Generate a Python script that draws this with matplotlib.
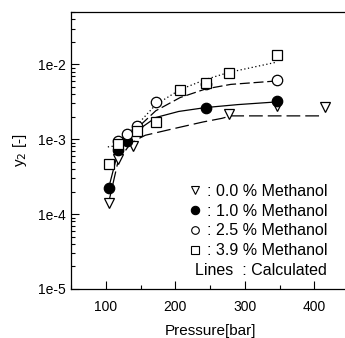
import matplotlib
matplotlib.use("Agg")
import matplotlib.pyplot as plt
from matplotlib.ticker import FixedLocator, LogLocator, NullFormatter, FuncFormatter, MultipleLocator
from matplotlib.lines import Line2D

plt.rcParams['font.family'] = ['Liberation Sans', 'DejaVu Sans']

# Experimental data
p_00 = [104, 118, 139, 277, 346, 415]
y_00 = [1.4e-4, 5.4e-4, 8.0e-4, 2.15e-3, 2.8e-3, 2.7e-3]

p_10 = [104, 118, 130, 244, 346]
y_10 = [2.24e-4, 7.2e-4, 9.6e-4, 2.65e-3, 3.25e-3]

p_25 = [118, 131, 145, 172, 244, 347]
y_25 = [9.6e-4, 1.17e-3, 1.5e-3, 3.1e-3, 5.4e-3, 6.2e-3]

p_39 = [104, 118, 145, 173, 207, 244, 277, 346]
y_39 = [4.7e-4, 8.7e-4, 1.27e-3, 1.7e-3, 4.6e-3, 5.7e-3, 7.7e-3, 1.35e-2]

# Calculated curves
pc_00 = [104, 118, 135, 150, 157, 200, 240, 267, 280, 320, 410]
yc_00 = [1.4e-4, 5.2e-4, 8.6e-4, 1.05e-3, 1.13e-3, 1.4e-3, 1.7e-3, 1.9e-3, 2.05e-3, 2.05e-3, 2.05e-3]

pc_10 = [104, 118, 130, 145, 172, 205, 244, 290, 346]
yc_10 = [2.2e-4, 7.0e-4, 9.8e-4, 1.3e-3, 1.95e-3, 2.35e-3, 2.65e-3, 2.9e-3, 3.15e-3]

pc_25 = [118, 131, 145, 172, 207, 244, 280, 346]
yc_25 = [9.5e-4, 1.15e-3, 1.4e-3, 2.4e-3, 3.6e-3, 4.7e-3, 5.4e-3, 6.0e-3]

pc_39 = [103, 112, 118, 131, 145, 172, 207, 244, 277, 346]
yc_39 = [7.9e-4, 8.1e-4, 9.0e-4, 1.15e-3, 1.55e-3, 2.9e-3, 4.6e-3, 6.3e-3, 7.8e-3, 1.07e-2]

labels = [": 0.0 % Methanol", ": 1.0 % Methanol", ": 2.5 % Methanol", ": 3.9 % Methanol"]
y_ticks = [1e-5, 1e-4, 1e-3, 1e-2]
y_tick_labels = ["1e-5", "1e-4", "1e-3", "1e-2"]
x_ticks = [100, 200, 300, 400]

fig = plt.figure(figsize=(3.45, 3.38), dpi=100)
W, H = 345, 338
left, right, top, bottom = 71, 349, 12, 289
ax = fig.add_axes([left / W, 1 - bottom / H, (right - left) / W, (bottom - top) / H])

lw = 0.9
ax.plot(pc_00, yc_00, color='black', lw=lw, linestyle=(0, (11, 4)), zorder=2)
ax.plot(pc_10, yc_10, color='black', lw=lw, linestyle='-', zorder=2)
ax.plot(pc_25, yc_25, color='black', lw=lw, linestyle=(0, (8, 3)), zorder=2)
ax.plot(pc_39, yc_39, color='black', lw=lw, linestyle=(0, (1, 2)), zorder=2)

ms = 7.5
ax.plot(p_00, y_00, linestyle='none', marker='v', ms=ms, mfc='white', mec='black', mew=0.9, zorder=3)
ax.plot(p_10, y_10, linestyle='none', marker='o', ms=ms, mfc='black', mec='black', mew=0.9, zorder=3)
ax.plot(p_25, y_25, linestyle='none', marker='o', ms=ms, mfc='white', mec='black', mew=0.9, zorder=3)
ax.plot(p_39, y_39, linestyle='none', marker='s', ms=ms, mfc='white', mec='black', mew=0.9, zorder=4)

ax.set_yscale('log')
ax.set_xlim(50, 450)
ax.set_ylim(1e-5, 5e-2)

ax.yaxis.set_major_locator(FixedLocator(y_ticks))
ax.yaxis.set_major_formatter(FuncFormatter(lambda v, pos: y_tick_labels[y_ticks.index(v)] if v in y_ticks else ""))
ax.yaxis.set_minor_locator(LogLocator(base=10, subs=range(2, 10)))
ax.yaxis.set_minor_formatter(NullFormatter())
ax.xaxis.set_major_locator(FixedLocator(x_ticks))
ax.xaxis.set_minor_locator(MultipleLocator(50))

ax.tick_params(which='major', direction='in', length=6, width=0.8, labelsize=10, top=False, right=False)
ax.tick_params(which='minor', direction='in', length=3, width=0.8, top=False, right=False)
ax.tick_params(axis='x', pad=8)
ax.tick_params(axis='y', pad=4)
for s in ax.spines.values():
    s.set_linewidth(0.9)

ax.set_xlabel("Pressure[bar]", fontsize=11, labelpad=7)
ax.set_ylabel("y$_2$ [-]", fontsize=11, labelpad=6)

handles = [
    Line2D([], [], linestyle='none', marker='v', ms=5.5, mfc='white', mec='black', mew=0.8),
    Line2D([], [], linestyle='none', marker='o', ms=6, mfc='black', mec='black', mew=0.8),
    Line2D([], [], linestyle='none', marker='o', ms=5.5, mfc='white', mec='black', mew=0.8),
    Line2D([], [], linestyle='none', marker='s', ms=5.5, mfc='white', mec='black', mew=0.8),
    Line2D([], [], linestyle='none'),
]
leg = ax.legend(handles, labels + ["Lines  : Calculated"], loc='lower left',
                bbox_to_anchor=((189 - left) / (right - left), (289 - 278) / (bottom - top)),
                frameon=False, fontsize=11.5, handlelength=0.8, handletextpad=0.35,
                labelspacing=0.3, borderpad=0, borderaxespad=0)
texts = leg.get_texts()
texts[-1].set_position((-12, 0))

fig.savefig("out.png", dpi=100)
